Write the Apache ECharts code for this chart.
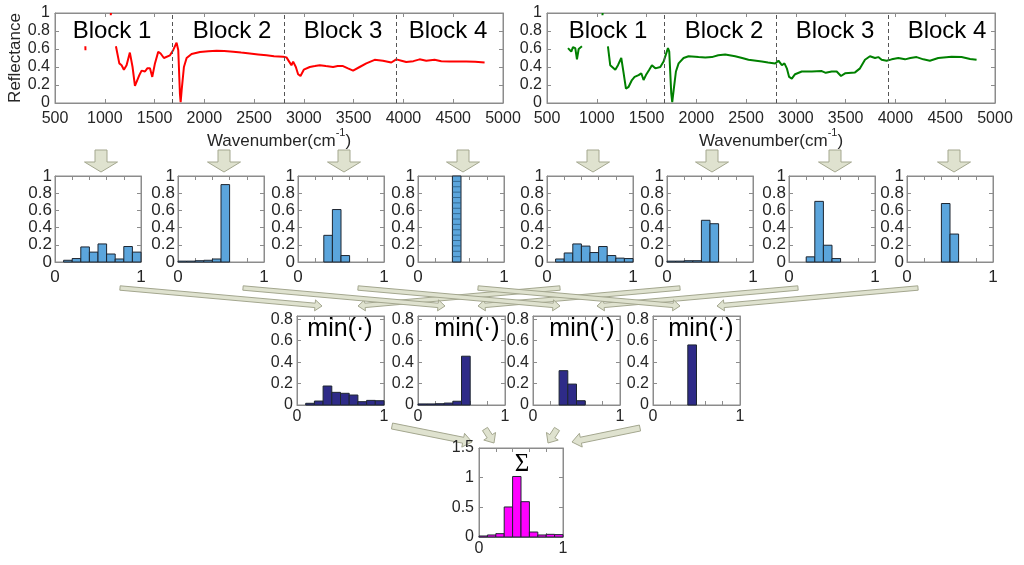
<!DOCTYPE html>
<html>
<head>
<meta charset="utf-8">
<script src="https://cdn.jsdelivr.net/npm/echarts@6/dist/echarts.min.js"></script>
<style>html,body{margin:0;padding:0;background:#fff}#c{width:1024px;height:565px}</style>
</head>
<body>
<div id="c"></div>
<script>
// ---------------- DATA ----------------
const blockEdges = [1675, 2800, 3925];
const blockNames = ['Block 1', 'Block 2', 'Block 3', 'Block 4'];
const binEdges = [0, 0.1, 0.2, 0.3, 0.4, 0.5, 0.6, 0.7, 0.8, 0.9, 1.0];

const redSpectrum = [
  [805,0.63],[806,0.585],[900,'-'],[1060,0.975],[1062,1.0],[1090,'-'],
  [1112,0.63],[1146,0.44],[1169,0.42],[1192,0.37],[1219,0.42],[1252,0.56],[1279,0.40],[1303,0.19],[1320,0.19],
  [1347,0.31],[1370,0.36],[1404,0.35],[1427,0.385],[1454,0.385],[1477,0.29],[1504,0.44],[1537,0.57],[1561,0.55],
  [1594,0.50],[1655,0.53],[1688,0.59],[1721,0.67],[1738,0.59],[1755,0.10],[1762,0.01],[1772,0.14],[1795,0.40],
  [1822,0.50],[1872,0.545],[1956,0.567],[2040,0.575],[2123,0.58],[2200,0.577],[2290,0.57],[2370,0.56],[2457,0.55],
  [2540,0.54],[2624,0.53],[2700,0.52],[2792,0.515],[2825,0.507],[2852,0.46],[2875,0.42],[2892,0.46],[2919,0.40],
  [2942,0.32],[2966,0.30],[2999,0.37],[3059,0.40],[3110,0.41],[3160,0.42],[3220,0.41],[3293,0.40],[3340,0.41],
  [3393,0.41],[3443,0.385],[3494,0.36],[3560,0.40],[3627,0.44],[3711,0.48],[3794,0.47],[3878,0.45],[3928,0.485],
  [3980,0.47],[4028,0.455],[4100,0.465],[4162,0.485],[4229,0.47],[4313,0.48],[4380,0.465],[4463,0.46],[4550,0.462],
  [4630,0.46],[4720,0.458],[4815,0.45]
];
const greenSpectrum = [
  [711,0.61],[724,0.62],[744,0.57],[761,0.62],[784,0.61],[801,0.485],[818,0.60],[851,0.63],[900,'-'],
  [1057,0.975],[1059,1.0],[1090,'-'],
  [1112,0.63],[1135,0.42],[1152,0.40],[1186,0.37],[1213,0.42],[1246,0.50],[1270,0.33],[1293,0.16],[1320,0.18],
  [1353,0.255],[1380,0.29],[1420,0.31],[1447,0.33],[1470,0.255],[1494,0.31],[1527,0.37],[1554,0.42],[1588,0.385],
  [1638,0.40],[1671,0.46],[1715,0.61],[1728,0.57],[1748,0.11],[1758,0.01],[1772,0.14],[1795,0.35],[1822,0.44],
  [1872,0.50],[1922,0.52],[2022,0.51],[2090,0.505],[2156,0.51],[2220,0.53],[2290,0.54],[2390,0.52],[2460,0.50],
  [2524,0.48],[2658,0.46],[2720,0.45],[2792,0.44],[2825,0.47],[2859,0.42],[2885,0.44],[2909,0.385],[2932,0.29],
  [2959,0.27],[2992,0.32],[3059,0.35],[3160,0.35],[3260,0.355],[3300,0.335],[3360,0.35],[3410,0.35],[3453,0.30],
  [3494,0.33],[3594,0.34],[3644,0.385],[3694,0.48],[3744,0.52],[3795,0.50],[3828,0.51],[3861,0.48],[3911,0.47],
  [3962,0.485],[4029,0.50],[4096,0.485],[4150,0.50],[4213,0.51],[4280,0.485],[4346,0.47],[4430,0.50],[4564,0.515],
  [4664,0.51],[4750,0.49],[4815,0.48]
];

const histRed1 = [0, 0.02, 0.04, 0.175, 0.115, 0.21, 0.093, 0.035, 0.18, 0.115];
const histRed2 = [0.01, 0.01, 0.015, 0.02, 0.035, 0.90, 0, 0, 0, 0];
const histRed3 = [0, 0, 0, 0.31, 0.61, 0.075, 0, 0, 0, 0];
const histRed4 = [0, 0, 0, 0, 1.0, 0, 0, 0, 0, 0];
const histGreen1 = [0, 0.035, 0.105, 0.21, 0.185, 0.11, 0.18, 0.075, 0.045, 0.04];
const histGreen2 = [0.01, 0.01, 0.015, 0.015, 0.485, 0.445, 0, 0, 0, 0];
const histGreen3 = [0, 0, 0.06, 0.705, 0.195, 0.04, 0, 0, 0, 0];
const histGreen4 = [0, 0, 0, 0, 0.68, 0.325, 0, 0, 0, 0];
const histMin1 = [0, 0.016, 0.037, 0.177, 0.118, 0.109, 0.093, 0.031, 0.043, 0.04];
const histMin2 = [0.01, 0.01, 0.012, 0.018, 0.035, 0.455, 0, 0, 0, 0];
const histMin3 = [0, 0, 0, 0.32, 0.195, 0.04, 0, 0, 0, 0];
const histMin4 = [0, 0, 0, 0, 0.56, 0, 0, 0, 0, 0];
const histSum = [0.017, 0.034, 0.056, 0.506, 1.02, 0.595, 0.084, 0.034, 0.045, 0.04];

const specXTicks = {min: 500, max: 5000, interval: 500};
const specYTicks = {min: 0, max: 1, interval: 0.2};
const row1YTicks = {min: 0, max: 1, interval: 0.2};
const row2YTicks = {min: 0, max: 0.83, interval: 0.2};
const sumYTicks = {min: 0, max: 1.5, interval: 0.5};
const histXTicks = {min: 0, max: 1, interval: 0.2};

// ---------------- LAYOUT / STYLE ----------------
const FONT = 'Liberation Sans, Arial, Helvetica, sans-serif';
const FRAME = '#8c8c8c';
const TXT = '#262626';
const grids = [], xAxes = [], yAxes = [], series = [];

function fmt(v) { return String(Math.round(v * 100) / 100); }

function addGrid(box, xt, yt, opt) {
  opt = opt || {};
  const fs = opt.fontSize || 16;
  const gi = grids.length;
  grids.push({left: box[0], top: box[1], width: box[2], height: box[3], show: true,
    borderColor: FRAME, borderWidth: 1, backgroundColor: '#fff'});
  const common = {gridIndex: gi, type: 'value', splitLine: {show: false},
    axisLine: {show: true, onZero: false, lineStyle: {color: FRAME, width: 1}},
    axisTick: {show: true, inside: true, length: 4, lineStyle: {color: FRAME}}};
  const xi = xAxes.length, yi = yAxes.length;
  xAxes.push(Object.assign({}, common, xt, {position: 'bottom',
    name: opt.xName || '', nameLocation: 'middle', nameGap: opt.xNameGap || 20,
    nameTextStyle: opt.xNameStyle || {},
    axisLabel: {fontSize: fs, color: TXT, fontFamily: FONT, margin: opt.xMargin || 6,
      formatter: opt.xFormatter || fmt, showMaxLabel: true}}));
  xAxes.push(Object.assign({}, common, xt, {position: 'top', axisLabel: {show: false}}));
  yAxes.push(Object.assign({}, common, yt, {position: 'left',
    name: opt.yName || '', nameLocation: 'middle', nameGap: opt.yNameGap || 30,
    nameTextStyle: {fontSize: 17, color: TXT, fontFamily: FONT},
    axisLabel: {fontSize: fs, color: TXT, fontFamily: FONT, margin: opt.yMargin || 4,
      formatter: opt.yFormatter || fmt, showMaxLabel: opt.yShowMax !== false}}));
  yAxes.push(Object.assign({}, common, yt, {position: 'right', axisLabel: {show: false}}));
  return {xi: xi, yi: yi};
}

function endLabels(v) { return (Math.abs(v) < 1e-9 || Math.abs(v - 1) < 1e-9) ? fmt(v) : ''; }

const wnName = {
  name: '{a|Wavenumber(cm}{s|-1}{a|)}',
  style: {rich: {
    a: {fontSize: 17, color: TXT, fontFamily: FONT, lineHeight: 22, verticalAlign: 'bottom'},
    s: {fontSize: 11, color: TXT, fontFamily: FONT, lineHeight: 22, verticalAlign: 'top'}
  }}
};

function addSpectrum(box, data, color, withYName) {
  const ax = addGrid(box, specXTicks, specYTicks, {
    xName: wnName.name, xNameStyle: wnName.style, xNameGap: 17, xMargin: 8, yMargin: 5,
    yName: withYName ? 'Reflectance' : '', yNameGap: 28
  });
  series.push({type: 'line', xAxisIndex: ax.xi, yAxisIndex: ax.yi, data: data, showSymbol: false,
    connectNulls: false, lineStyle: {color: color, width: 2}, itemStyle: {color: color},
    markLine: {silent: true, symbol: ['none', 'none'], label: {show: false},
      lineStyle: {color: '#555', type: [4, 3], width: 1},
      data: blockEdges.map(function (e) { return {xAxis: e}; })}});
}

function addHist(box, heights, yt, color, opt) {
  opt = opt || {};
  const ax = addGrid(box, histXTicks, yt, {xFormatter: endLabels, xMargin: opt.xMargin || 6,
    yMargin: opt.yMargin || 4, yShowMax: opt.yShowMax, fontSize: opt.fontSize});
  const data = [];
  heights.forEach(function (h, i) { if (h > 0) data.push([binEdges[i], binEdges[i + 1], h]); });
  const hatch = opt.hatch || 0;
  series.push({type: 'custom', xAxisIndex: ax.xi, yAxisIndex: ax.yi, data: data,
    encode: {x: [0, 1], y: 2},
    renderItem: function (params, api) {
      const a = api.coord([api.value(0), 0]);
      const b = api.coord([api.value(1), api.value(2)]);
      const children = [{type: 'rect', shape: {x: a[0], y: b[1], width: b[0] - a[0], height: a[1] - b[1]},
        style: {fill: color, stroke: '#1d2530', lineWidth: 1}}];
      for (let k = 1; k < hatch; k++) {
        const p = api.coord([api.value(0), api.value(2) * k / hatch]);
        children.push({type: 'line', shape: {x1: a[0], y1: p[1], x2: b[0], y2: p[1]},
          style: {stroke: '#2a5a80', lineWidth: 0.8}});
      }
      return {type: 'group', children: children};
    }});
}

// Spectra
addSpectrum([55, 13, 448, 90], redSpectrum, '#ff0000', true);
addSpectrum([547, 13, 448, 90], greenSpectrum, '#008000', false);

// Row 1 histograms
const BLUE = '#5ba5dc';
const row1Left = [55, 178, 298, 418, 547, 667, 789, 907];
const row1Data = [histRed1, histRed2, histRed3, histRed4, histGreen1, histGreen2, histGreen3, histGreen4];
row1Data.forEach(function (d, i) {
  addHist([row1Left[i], 176, 86, 86], d, row1YTicks, BLUE,
    {xMargin: 7, yMargin: 3, hatch: i === 3 ? 16 : 0, fontSize: 17});
});

// Row 2 min histograms
const NAVY = '#2e2b88';
const row2Left = [297, 418, 533, 653];
[histMin1, histMin2, histMin3, histMin4].forEach(function (d, i) {
  addHist([row2Left[i], 316, 87, 89], d, row2YTicks, NAVY, {xMargin: 4, yMargin: 4, yShowMax: false});
});

// Sum histogram
addHist([479, 448, 84, 89], histSum, sumYTicks, '#ff00ff', {xMargin: 4, yMargin: 5});

// ---------------- GRAPHICS (annotations) ----------------
const ARROW_FILL = '#dfe2cf', ARROW_STROKE = '#a4a78f';
function arrow(tail, tip, w, hw, hl) {
  const dx = tip[0] - tail[0], dy = tip[1] - tail[1];
  const L = Math.sqrt(dx * dx + dy * dy), ux = dx / L, uy = dy / L, nx = -uy, ny = ux;
  const bx = tip[0] - ux * hl, by = tip[1] - uy * hl;
  return {type: 'polygon', shape: {points: [
    [tail[0] + nx * w, tail[1] + ny * w], [bx + nx * w, by + ny * w], [bx + nx * hw, by + ny * hw],
    [tip[0], tip[1]], [bx - nx * hw, by - ny * hw], [bx - nx * w, by - ny * w], [tail[0] - nx * w, tail[1] - ny * w]
  ]}, style: {fill: ARROW_FILL, stroke: ARROW_STROKE, lineWidth: 1}};
}
const g = [];
[101, 224, 344, 463, 593, 712, 835, 954].forEach(function (x) {
  g.push(arrow([x, 150], [x, 172], 6, 16.5, 10));
});
const rTails = [120, 243, 358, 478], rTips = [322, 445, 560, 680];
const lTails = [560, 680, 798, 918], lTips = [358, 478, 597, 717];
for (let i = 0; i < 4; i++) {
  g.push(arrow([rTails[i], 288], [rTips[i], 306], 2.2, 5.5, 7));
  g.push(arrow([lTails[i], 288], [lTips[i], 306], 2.2, 5.5, 7));
}
g.push(arrow([392, 426], [472, 442], 3, 7, 9));
g.push(arrow([485, 429], [494, 443], 3, 7, 8));
g.push(arrow([557, 429], [548, 443], 3, 7, 8));
g.push(arrow([640, 428], [572, 442], 3, 7, 9));

function txt(x, y, s, size, family) {
  return {type: 'text', x: x, y: y, style: {text: s, fontSize: size, fontFamily: family || FONT,
    fill: '#000', textAlign: 'center', textVerticalAlign: 'middle'}};
}
const blockXL = [112, 232, 343, 448], blockXR = [608, 724, 835, 947];
blockNames.forEach(function (n, i) {
  g.push(txt(blockXL[i], 31, n, 24));
  g.push(txt(blockXR[i], 31, n, 24));
});
[340, 467, 582, 701].forEach(function (x) { g.push(txt(x, 329, 'min(\u00B7)', 25)); });
g.push(txt(522, 464, '\u03A3', 25, 'Liberation Serif, Times New Roman, serif'));

const option = {
  animation: false, backgroundColor: '#fff',
  grid: grids, xAxis: xAxes, yAxis: yAxes, series: series,
  graphic: {elements: g}
};
const chart = echarts.init(document.getElementById('c'), null, {renderer: 'canvas'});
chart.setOption(option);
</script>
</body>
</html>
